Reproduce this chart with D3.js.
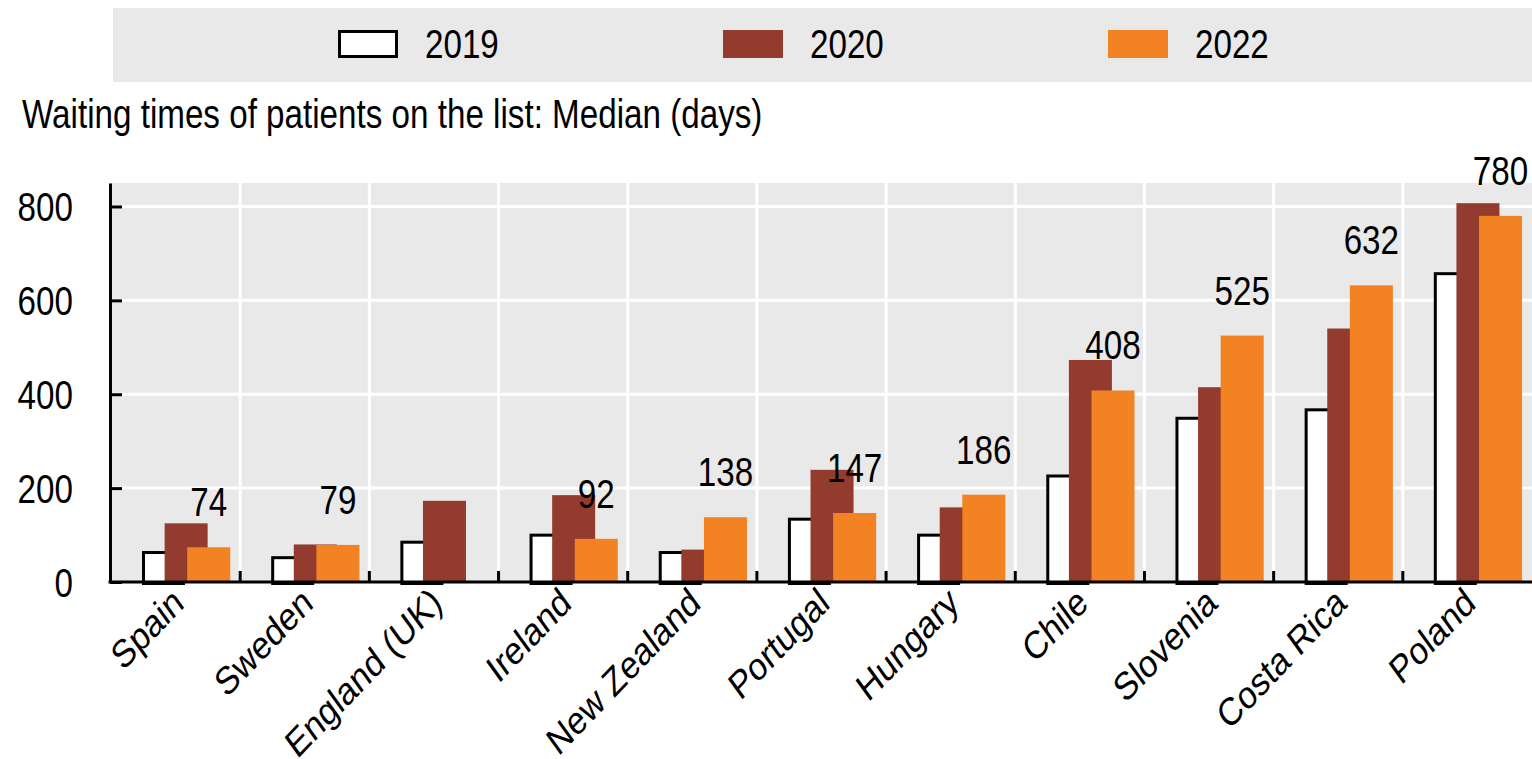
<!DOCTYPE html>
<html>
<head>
<meta charset="utf-8">
<script src="https://cdn.jsdelivr.net/npm/d3@7"></script>
<style>
  body { margin: 0; background: #fff; }
  text { font-family: "Liberation Sans", Arial, sans-serif; fill: #000; }
</style>
</head>
<body>
<div id="chart"></div>
<script>
// data
var countries = ["Spain", "Sweden", "England (UK)", "Ireland", "New Zealand", "Portugal",
    "Hungary", "Chile", "Slovenia", "Costa Rica", "Poland"];
var years = ["2019", "2020", "2022"];
var v2019 = [66, 55, 88, 103, 66, 137, 103, 229, 352, 370, 660];
var v2020 = [125, 80, 173, 185, 69, 239, 159, 473, 415, 540, 807];
var v2022 = [74, 79, null, 92, 138, 147, 186, 408, 525, 632, 780];
var yTicks = [0, 200, 400, 600, 800];
var subtitle = "Waiting times of patients on the list: Median (days)";

var svgWidth = 1532;
var svgHeight = 759;

var plot = { left: 111, right: 1532, top: 183, bottom: 582 };
var fontSize = 40;
var squeeze = 0.83;   // the original type is narrow, so squeeze it sideways
var grey = "#e9e9e9";
var colors = { "2019": "#ffffff", "2020": "#943b2f", "2022": "#f38223" };

// put a text at x with the narrow look
function narrow(sel, xpos) {
    sel.attr("x", typeof xpos == "function" ? (d, i) => xpos(d, i) / squeeze : xpos / squeeze)
        .attr("transform", `scale(${squeeze}, 1)`)
        .style("font-size", fontSize + "px");
}

var svg = d3.select("#chart")
    .append("svg")
    .attr("width", svgWidth)
    .attr("height", svgHeight);

// legend strip
svg.append("rect")
    .attr("x", 113).attr("y", 8)
    .attr("width", 1419).attr("height", 74)
    .attr("fill", grey);

var legend = svg.selectAll(".legend")
    .data(years)
    .enter()
    .append("g")
    .attr("class", "legend")
    .attr("transform", (d, i) => `translate(${338 + i * 385}, 30)`);

legend.append("rect")
    .attr("x", d => d == "2019" ? 1.5 : 0)
    .attr("y", d => d == "2019" ? 1.5 : 0)
    .attr("width", d => d == "2019" ? 57 : 60)
    .attr("height", d => d == "2019" ? 25 : 28)
    .attr("fill", d => colors[d])
    .attr("stroke", d => d == "2019" ? "#000" : "none")
    .attr("stroke-width", 3);

legend.append("text")
    .attr("y", 28)
    .call(narrow, 87)
    .text(d => d);

svg.append("text")
    .attr("y", 128)
    .call(narrow, 22)
    .text(subtitle);

// scales
var x = d3.scaleBand()
    .domain(countries)
    .range([plot.left, plot.right]);

var y = d3.scaleLinear()
    .domain([0, 850])
    .range([plot.bottom, plot.top]);

var bw = x.bandwidth();
var barW = bw * 0.333;
var offsets = { "2019": bw * 0.24, "2020": bw * 0.415, "2022": bw * 0.59 };

// plot background
svg.append("rect")
    .attr("x", plot.left).attr("y", plot.top)
    .attr("width", plot.right - plot.left)
    .attr("height", plot.bottom - plot.top)
    .attr("fill", grey);

// gridlines
svg.append("g")
    .selectAll("line")
    .data(yTicks.slice(1))
    .enter()
    .append("line")
    .attr("x1", plot.left).attr("x2", plot.right)
    .attr("y1", d => y(d)).attr("y2", d => y(d))
    .attr("stroke", "#fff")
    .attr("stroke-width", 3);

svg.append("g")
    .selectAll("line")
    .data(countries.slice(1))
    .enter()
    .append("line")
    .attr("x1", d => x(d)).attr("x2", d => x(d))
    .attr("y1", plot.top).attr("y2", plot.bottom)
    .attr("stroke", "#fff")
    .attr("stroke-width", 3);

// bars
var series = { "2019": v2019, "2020": v2020, "2022": v2022 };

years.forEach(function(yr) {
    var rows = countries.map((c, i) => ({ country: c, value: series[yr][i] }))
        .filter(d => d.value != null);
    var white = yr == "2019";
    svg.append("g")
        .selectAll("rect")
        .data(rows)
        .enter()
        .append("rect")
        .attr("x", d => x(d.country) + offsets[yr] + (white ? 1.5 : 0))
        .attr("y", d => y(d.value) + (white ? 1.5 : 0))
        .attr("width", white ? barW - 3 : barW)
        .attr("height", d => y(0) - y(d.value))
        .attr("fill", colors[yr])
        .attr("stroke", white ? "#000" : "none")
        .attr("stroke-width", 3);
});

// value labels over the 2022 bars
svg.append("g")
    .selectAll("text")
    .data(countries.map((c, i) => ({ country: c, value: v2022[i] })).filter(d => d.value != null))
    .enter()
    .append("text")
    .attr("y", d => y(d.value) - 31)
    .attr("text-anchor", "middle")
    .call(narrow, d => x(d.country) + offsets["2022"] + barW / 2)
    .text(d => d.value);

// y axis
var leftAxis = d3.axisLeft(y)
    .tickValues(yTicks)
    .tickSizeInner(-12)
    .tickSizeOuter(0)
    .tickPadding(37);

var yAxisG = svg.append("g")
    .attr("transform", `translate(${plot.left - 1}, 0)`)
    .call(leftAxis);

yAxisG.attr("font-family", null).attr("font-size", null);
yAxisG.select(".domain").attr("stroke-width", 3);
yAxisG.selectAll(".tick line").attr("stroke-width", 3);
yAxisG.selectAll(".tick text")
    .attr("dy", "0.36em")
    .call(narrow, -37);

// x axis: labels at band centres, ticks at band edges
var bottomAxis = d3.axisBottom(x)
    .tickSize(0)
    .tickPadding(0);

var xAxisG = svg.append("g")
    .attr("transform", `translate(0, ${plot.bottom})`)
    .call(bottomAxis);

xAxisG.attr("font-family", null).attr("font-size", null);
xAxisG.select(".domain").remove();
xAxisG.selectAll(".tick text")
    .attr("x", 0)
    .attr("y", 0)
    .attr("dy", null)
    .attr("text-anchor", "end")
    .attr("transform", `translate(10, 24) scale(${squeeze}, 1) rotate(-41)`)
    .style("font-size", "39px");

svg.append("g")
    .selectAll("line")
    .data(countries.slice(1))
    .enter()
    .append("line")
    .attr("x1", d => x(d)).attr("x2", d => x(d))
    .attr("y1", plot.bottom).attr("y2", plot.bottom - 11)
    .attr("stroke", "#000")
    .attr("stroke-width", 3);

svg.append("line")
    .attr("x1", plot.left - 2.5).attr("x2", plot.right)
    .attr("y1", plot.bottom).attr("y2", plot.bottom)
    .attr("stroke", "#000")
    .attr("stroke-width", 3);
</script>
</body>
</html>
